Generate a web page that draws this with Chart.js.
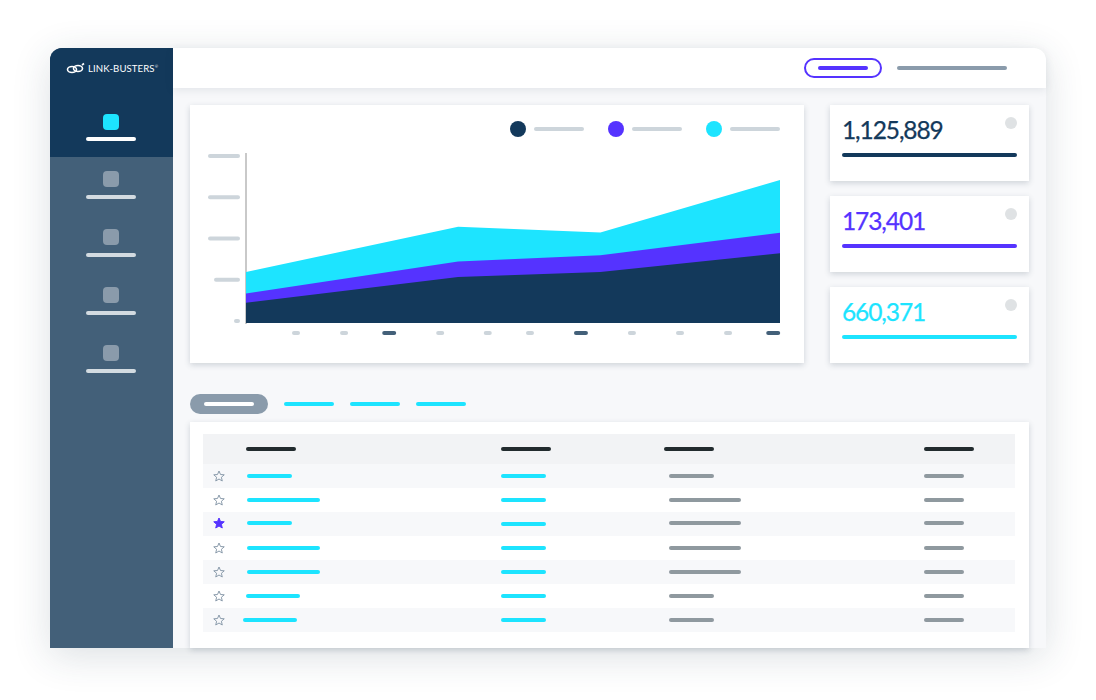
<!DOCTYPE html>
<html>
<head>
<meta charset="utf-8">
<title>Link-Busters dashboard</title>
<script src="https://cdn.jsdelivr.net/npm/chart.js@4/dist/chart.umd.min.js"></script>
<style>
  html, body { margin: 0; padding: 0; background: #fff; overflow: hidden; }
  body { width: 1096px; height: 700px; position: relative; font-family: Lato, sans-serif; }
  .box { position: absolute; }
  .pill { position: absolute; border-radius: 3px; }
  #app { position: absolute; left: 50px; top: 48px; width: 996px; height: 600px; background: #f7f8fa;
    border-radius: 12px 12px 0 0; box-shadow: 0 8px 38px rgba(40, 60, 80, .16); }
  #side { position: absolute; left: 50px; top: 48px; width: 123px; height: 600px; background: #436079; border-radius: 12px 0 0 0; }
  #sideTop { position: absolute; left: 50px; top: 48px; width: 123px; height: 109px; background: #13395b; border-radius: 12px 0 0 0; }
  #top { position: absolute; left: 173px; top: 48px; width: 873px; height: 40px; background: #fff;
    border-radius: 0 12px 0 0; box-shadow: 0 2px 8px rgba(40, 60, 80, .1); }
  .card { position: absolute; background: #fff; box-shadow: 0 2px 6px rgba(40, 60, 80, .2); }
  #logo { position: absolute; left: 88px; top: 62px; color: #fff; font-size: 9.6px; letter-spacing: .1px; line-height: 14px; white-space: nowrap; }
  #logo sup { font-size: 4px; vertical-align: 4px; line-height: 0; }
  .num { position: absolute; left: 842px; font-size: 24.5px; letter-spacing: -1.1px; line-height: 30px; -webkit-text-stroke: .25px currentColor; }
  #chartCard canvas { position: absolute; left: 0; top: 0; }
</style>
</head>
<body>
<div id="app"></div>
<div id="side"></div>
<div id="sideTop"></div>
<div id="top"></div>
<svg class="box" style="left:66px;top:62px" width="20" height="14" viewBox="0 0 20 14" fill="none" stroke="#fff" stroke-width="1.6">
  <ellipse cx="6" cy="7.5" rx="4.5" ry="3"/><ellipse cx="12" cy="6.5" rx="4.5" ry="3"/><path d="M16 3l2-1.5"/>
</svg>
<div id="logo">LINK-BUSTERS<sup>®</sup></div>

<div class="card" id="chartCard" style="left:190px;top:105px;width:614px;height:258px">
  <canvas id="myChart" width="614" height="258"></canvas>
</div>

<script>
'use strict';

// chart data, y in thousands, x in weeks
const seriesNames = ['Direct', 'Referral', 'Organic'];
const xValues = [0, 4.37, 7.3, 11];
const darkValues = [24.5, 55.8, 61.8, 84.7];
const purpleValues = [11.3, 18.9, 20.5, 24.9];
const cyanValues = [26, 42.2, 27.4, 63.9];
const yTickValues = [0, 50, 100, 150, 200];
const yTickLabels = ['0', '50k', '100', '150', '200'];
const xTickValues = [1.03, 2.02, 2.95, 4, 4.98, 5.85, 6.9, 7.95, 8.94, 9.93, 10.86];
const xTickMajor = [false, false, true, false, false, false, true, false, false, false, true];
const statValues = ['1,125,889', '173,401', '660,371'];

const DARK = '#13395b';
const PURPLE = '#5533ff';
const CYAN = '#1de4ff';
const LIGHT = '#cdd5db';
const GREY = '#8a9bab';

function toPoints (values)
{
  return values.map(function (v, i) { return { x: xValues[i], y: v }; });
}

function pill (x, y, w, h, color, parent)
{
  let el = document.createElement('div');
  el.className = 'pill';
  el.style.cssText = 'left:' + x + 'px;top:' + y + 'px;width:' + w + 'px;height:' + h + 'px;background:' + color;
  (parent || document.body).appendChild(el);
  return el;
}

function roundPill (ctx, x, y, w, h, color)
{
  ctx.fillStyle = color;
  ctx.beginPath();
  ctx.roundRect(x, y, w, h, h / 2);
  ctx.fill();
}

// the tick labels of the original are blurred to bars, so draw bars at the tick positions
const tickBars = {
  id: 'tickBars',
  afterDraw: function (chart) {
    const ctx = chart.ctx;
    const yScale = chart.scales.y;
    const xScale = chart.scales.x;
    yScale.ticks.forEach(function (t, i) {
      const len = yTickLabels[i].length;
      const w = len === 1 ? 6 : (i === 1 ? 26 : 32);
      roundPill(ctx, 50 - w, yScale.getPixelForValue(t.value) - 4, w, 4, LIGHT);
    });
    xScale.ticks.forEach(function (t, i) {
      const w = xTickMajor[i] ? 14 : 8;
      roundPill(ctx, xScale.getPixelForValue(t.value) - w / 2, 226, w, 4, xTickMajor[i] ? '#436079' : LIGHT);
    });
  }
};

new Chart(document.getElementById('myChart').getContext('2d'), {
  type: 'line',
  data: {
    datasets: [
      { label: seriesNames[0], data: toPoints(darkValues), backgroundColor: DARK, borderWidth: 0, pointRadius: 0, fill: 'origin', tension: 0 },
      { label: seriesNames[1], data: toPoints(purpleValues), backgroundColor: PURPLE, borderWidth: 0, pointRadius: 0, fill: 'origin', tension: 0 },
      { label: seriesNames[2], data: toPoints(cyanValues), backgroundColor: CYAN, borderWidth: 0, pointRadius: 0, fill: 'origin', tension: 0 }
    ]
  },
  options: {
    responsive: false,
    animation: false,
    layout: { padding: { left: 48, right: 24, top: 49, bottom: 32 } },
    plugins: { legend: { display: false }, tooltip: { enabled: false } },
    scales: {
      x: {
        type: 'linear',
        min: 0,
        max: 11,
        grid: { display: false },
        border: { display: false },
        ticks: { display: false },
        afterBuildTicks: function (axis) { axis.ticks = xTickValues.map(function (v) { return { value: v }; }); }
      },
      y: {
        stacked: true,
        min: 0,
        max: 205,
        grid: { display: false },
        border: { display: true, color: '#c9c9c9', width: 2 },
        ticks: { display: false },
        afterBuildTicks: function (axis) { axis.ticks = yTickValues.map(function (v) { return { value: v }; }); }
      }
    }
  },
  plugins: [tickBars]
});

// legend of the chart
const legendColors = [DARK, PURPLE, CYAN];
seriesNames.forEach(function (name, i) {
  const x = 510 + i * 98;
  let dot = pill(x, 121, 16, 16, legendColors[i]);
  dot.style.borderRadius = '50%';
  dot.title = name;
  pill(x + 24, 127, 50, 4, LIGHT);
});

// sidebar
[114, 171, 229, 287, 345].forEach(function (y, i) {
  let icon = pill(103, y, 16, 16, i === 0 ? CYAN : GREY);
  icon.style.borderRadius = '4px';
  pill(86, y + (i === 0 ? 23 : 24), 50, 4, i === 0 ? '#fff' : '#d3dbe1');
});

// top bar
let btn = pill(804, 58, 78, 20, '#fff');
btn.style.border = '2px solid ' + PURPLE;
btn.style.boxSizing = 'border-box';
btn.style.borderRadius = '10px';
pill(818, 66, 50, 4, PURPLE);
pill(897, 66, 110, 4, GREY);

// stat cards
const statColors = [DARK, PURPLE, CYAN];
statValues.forEach(function (value, i) {
  const y = 105 + i * 91;
  let card = document.createElement('div');
  card.className = 'card';
  card.style.cssText = 'left:830px;top:' + y + 'px;width:199px;height:76px';
  document.body.appendChild(card);
  let num = document.createElement('div');
  num.className = 'num';
  num.style.top = (y + 10) + 'px';
  num.style.color = statColors[i];
  num.textContent = value;
  document.body.appendChild(num);
  pill(842, y + 48, 175, 4, statColors[i]);
  let dot = pill(1005, y + 12, 12, 12, '#dfe2e4');
  dot.style.borderRadius = '50%';
});

// tabs
let tab = pill(190, 394, 78, 20, GREY);
tab.style.borderRadius = '10px';
pill(204, 402, 50, 4, '#fff');
[284, 350, 416].forEach(function (x) { pill(x, 402, 50, 4, CYAN); });

// table
let tableCard = document.createElement('div');
tableCard.className = 'card';
tableCard.style.cssText = 'left:190px;top:422px;width:839px;height:226px';
document.body.appendChild(tableCard);
let head = pill(203, 434, 812, 30, '#f2f3f5');
head.style.borderRadius = '0';
[246, 501, 664, 924].forEach(function (x) { pill(x, 447, 50, 4, '#222b2e'); });

const nameStart = [247, 247, 247, 247, 247, 246, 243];
const nameWidth = [45, 73, 45, 73, 73, 54, 54];
const pageWidth = [45, 72, 72, 72, 72, 45, 45];
const starred = [false, false, true, false, false, false, false];
const rowBarY = [474, 498, 521, 546, 570, 594, 618];

nameWidth.forEach(function (w, i) {
  const y = 464 + i * 24;
  if (i % 2 === 0)
  {
    let row = pill(203, y, 812, 24, '#f7f8fa');
    row.style.borderRadius = '0';
  }
  let svgNS = 'http://www.w3.org/2000/svg';
  let star = document.createElementNS(svgNS, 'svg');
  star.setAttribute('class', 'box');
  star.setAttribute('width', '12');
  star.setAttribute('height', '12');
  star.setAttribute('viewBox', '0 0 24 24');
  star.style.left = '213px';
  star.style.top = (rowBarY[i] - 4) + 'px';
  let poly = document.createElementNS(svgNS, 'polygon');
  poly.setAttribute('points', '12,2 15,9 22.5,9.6 16.8,14.5 18.5,22 12,18 5.5,22 7.2,14.5 1.5,9.6 9,9');
  poly.setAttribute('fill', starred[i] ? PURPLE : 'none');
  poly.setAttribute('stroke', starred[i] ? PURPLE : '#8a9bab');
  poly.setAttribute('stroke-width', '2');
  star.appendChild(poly);
  document.body.appendChild(star);
  pill(nameStart[i], rowBarY[i], w, 4, CYAN);
  pill(501, i === 2 ? rowBarY[i] + 1 : rowBarY[i], 45, 4, CYAN);
  pill(669, rowBarY[i], pageWidth[i], 4, '#8f999f');
  pill(924, rowBarY[i], 40, 4, '#8f999f');
});
</script>
</body>
</html>
